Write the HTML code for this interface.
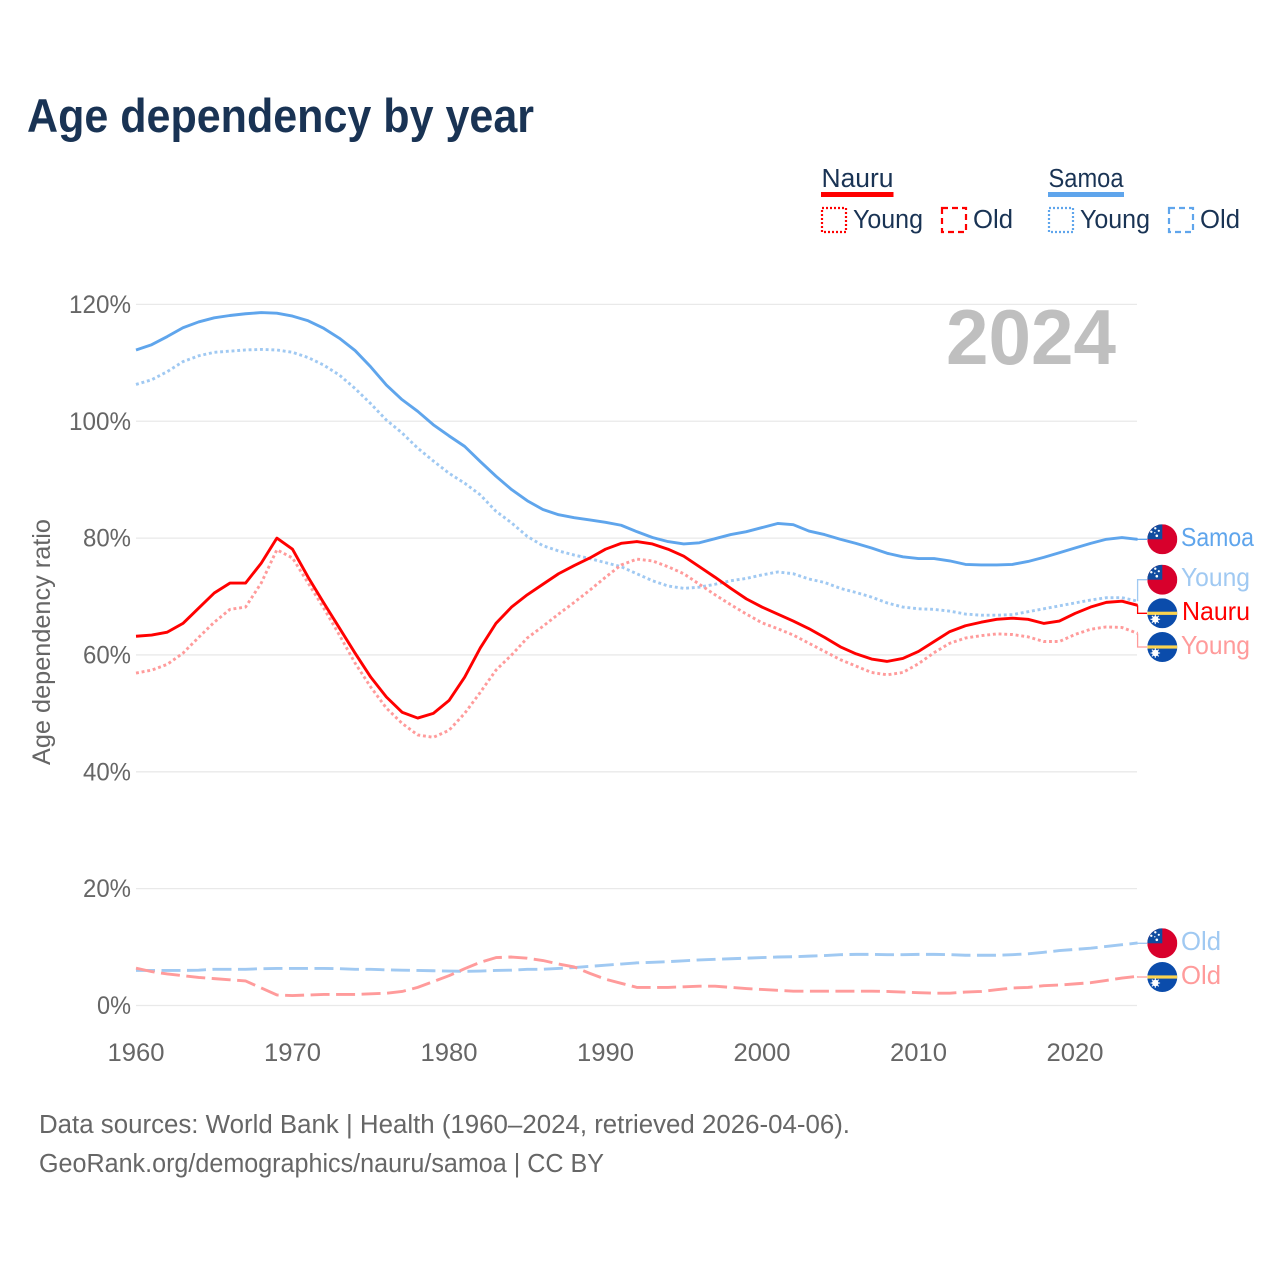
<!DOCTYPE html>
<html lang="en">
<head>
<meta charset="utf-8">
<title>Age dependency by year</title>
<style>
html,body{margin:0;padding:0;background:#fff;}
svg{display:block;}
text{font-family:"Liberation Sans",sans-serif;}
</style>
</head>
<body>
<svg id="chart" xmlns="http://www.w3.org/2000/svg" width="1280" height="1280" viewBox="0 0 1280 1280">
  <defs>
    <clipPath id="flag-clip"><circle cx="0" cy="0" r="15"/></clipPath>
    <g id="samoa-flag" clip-path="url(#flag-clip)">
      <rect x="-15" y="-15" width="30" height="30" fill="#d8002c"/>
      <rect x="-15" y="-15" width="15" height="15" fill="#0f4c9f"/>
      <circle cx="-7" cy="-11" r="1.2" fill="#fff"/>
      <circle cx="-3.5" cy="-8.5" r="1.1" fill="#fff"/>
      <circle cx="-11" cy="-7.5" r="1.2" fill="#fff"/>
      <circle cx="-5.5" cy="-3.5" r="1.3" fill="#fff"/>
      <circle cx="-7.5" cy="-6.5" r="0.7" fill="#fff"/>
    </g>
    <g id="nauru-flag" clip-path="url(#flag-clip)">
      <rect x="-15" y="-15" width="30" height="30" fill="#0b4cab"/>
      <rect x="-15" y="-1.6" width="30" height="3.2" fill="#fbd34f"/>
      <circle cx="-7" cy="6" r="3.2" fill="#fff"/>
      <path d="M-7 1.2V10.8M-11.8 6H-2.2M-10.4 2.6L-3.6 9.4M-3.6 2.6L-10.4 9.4" stroke="#fff" stroke-width="1.1"/>
    </g>
  </defs>

  <text x="27" y="132" font-size="47" font-weight="700" fill="#193354" textLength="507" lengthAdjust="spacingAndGlyphs">Age dependency by year</text>

  <g font-size="25.5" fill="#193354">
    <text x="821.5" y="187" textLength="72" lengthAdjust="spacingAndGlyphs">Nauru</text>
    <rect x="821" y="192" width="72.5" height="5" fill="#ff0000"/>
    <rect x="822" y="208" width="24" height="24" fill="none" stroke="#ff0000" stroke-width="2.2" stroke-dasharray="2 2"/>
    <text x="853" y="228" textLength="70" lengthAdjust="spacingAndGlyphs">Young</text>
    <rect x="942" y="208" width="24" height="24" fill="none" stroke="#ff0000" stroke-width="2.2" stroke-dasharray="6 4"/>
    <text x="973" y="228" textLength="40" lengthAdjust="spacingAndGlyphs">Old</text>
    <text x="1048.5" y="187" textLength="75" lengthAdjust="spacingAndGlyphs">Samoa</text>
    <rect x="1048" y="192" width="76" height="5" fill="#5fa5ec"/>
    <rect x="1049" y="208" width="24" height="24" fill="none" stroke="#5fa5ec" stroke-width="2.2" stroke-dasharray="2 2"/>
    <text x="1080" y="228" textLength="70" lengthAdjust="spacingAndGlyphs">Young</text>
    <rect x="1169" y="208" width="24" height="24" fill="none" stroke="#5fa5ec" stroke-width="2.2" stroke-dasharray="6 4"/>
    <text x="1200" y="228" textLength="40" lengthAdjust="spacingAndGlyphs">Old</text>
  </g>

  <g id="grid"></g>
  <g id="yticks"></g>
  <g id="xticks"></g>

  <text x="946" y="364" font-size="78" font-weight="700" fill="#bfbfbf" textLength="170" lengthAdjust="spacingAndGlyphs">2024</text>

  <text transform="translate(50,765) rotate(-90)" x="0" y="0" font-size="25" fill="#666666" textLength="246" lengthAdjust="spacingAndGlyphs">Age dependency ratio</text>

  <g id="series"></g>
  <g id="connectors"></g>

  <g font-size="26">
    <use href="#samoa-flag" x="1162.3" y="539.3"/>
    <text x="1181" y="546" fill="#5fa5ec" textLength="73" lengthAdjust="spacingAndGlyphs">Samoa</text>
    <use href="#samoa-flag" x="1162.3" y="579.7"/>
    <text x="1181" y="586" fill="#a0c9f2" textLength="69" lengthAdjust="spacingAndGlyphs">Young</text>
    <use href="#nauru-flag" x="1162.3" y="613.3"/>
    <text x="1182" y="620" fill="#ff0000" textLength="68" lengthAdjust="spacingAndGlyphs">Nauru</text>
    <use href="#nauru-flag" x="1162.3" y="647"/>
    <text x="1181" y="654" fill="#ff9b9b" textLength="69" lengthAdjust="spacingAndGlyphs">Young</text>
    <use href="#samoa-flag" x="1162.3" y="943.3"/>
    <text x="1181" y="950" fill="#a0c9f2" textLength="40" lengthAdjust="spacingAndGlyphs">Old</text>
    <use href="#nauru-flag" x="1162.3" y="977"/>
    <text x="1181" y="984" fill="#ff9b9b" textLength="40" lengthAdjust="spacingAndGlyphs">Old</text>
  </g>

  <text x="39" y="1133" font-size="25.5" fill="#666666" textLength="811" lengthAdjust="spacingAndGlyphs">Data sources: World Bank | Health (1960–2024, retrieved 2026-04-06).</text>
  <text x="39" y="1172" font-size="25.5" fill="#666666" textLength="565" lengthAdjust="spacingAndGlyphs">GeoRank.org/demographics/nauru/samoa | CC BY</text>
</svg>
<script>
var firstYear = 1960;
var yearTicks = [1960, 1970, 1980, 1990, 2000, 2010, 2020];
var valueTicks = [0, 20, 40, 60, 80, 100, 120];

var nauruTotal = [63.2,63.4,63.9,65.4,68,70.6,72.3,72.3,75.7,80,78.1,73.3,68.9,64.6,60.3,56.2,52.8,50.2,49.2,50,52.2,56.2,61.2,65.4,68.2,
  70.3,72.1,73.9,75.3,76.6,78.1,79.1,79.4,79,78.1,76.9,75.1,73.3,71.4,69.6,68.2,67,65.8,64.5,63,
  61.4,60.2,59.3,58.9,59.4,60.6,62.3,64,65,65.6,66.1,66.3,66.1,65.4,65.8,67.1,68.2,69,69.2,68.5];
var nauruYoung = [56.9,57.4,58.4,60.3,63,65.6,67.8,68.2,72.3,78,76.6,72.3,68,63.4,58.6,54.5,50.9,48.3,46.3,45.9,47.1,50,53.6,57.4,60,
  62.9,64.9,67,69,71.1,73.3,75.4,76.4,76.1,75.1,73.9,72.1,70.3,68.6,67,65.5,64.5,63.4,62,60.6,
  59.2,58.1,57,56.6,57,58.5,60.4,62,62.9,63.3,63.6,63.5,63.1,62.3,62.3,63.5,64.4,64.8,64.7,63.7];
var nauruOld = [6.4,5.8,5.4,5.1,4.8,4.6,4.4,4.2,3,1.8,1.7,1.8,1.9,1.9,1.9,2,2.1,2.4,3.1,4.1,5.1,6.3,7.4,8.2,8.3,
  8.1,7.7,7.1,6.6,5.5,4.5,3.8,
  3.1,3.1,3.1,3.2,3.3,3.3,3.1,2.9,2.75,2.6,2.45,2.45,2.45,2.45,2.45,2.45,2.4,2.3,2.2,2.1,2.1,2.3,2.4,2.7,3,3.1,3.4,3.5,3.7,3.9,4.3,4.7,5];
var samoaTotal = [112.2,113.1,114.5,116,117,117.7,118.1,118.4,118.6,118.5,118,117.2,115.9,114.2,112.1,109.3,106.2,103.7,101.7,99.4,97.5,95.7,93.1,90.6,88.3,
  86.4,84.9,84,83.5,83.1,82.7,82.2,81.1,80.1,79.4,79,79.2,79.9,80.6,81.1,81.8,82.5,82.3,81.2,80.6,
  79.8,79.1,78.3,77.4,76.8,76.5,76.5,76.1,75.5,75.4,75.4,75.5,76,76.7,77.5,78.3,79.1,79.8,80.1,79.8];
var samoaYoung = [106.3,107.1,108.5,110.2,111.2,111.8,112,112.2,112.3,112.2,111.8,110.9,109.6,107.9,105.6,103,100.2,98,95.4,93.2,91.1,89.4,87.4,84.6,82.6,
  80.3,78.7,77.8,77.1,76.5,75.8,75.1,73.9,72.7,71.8,71.4,71.6,72.1,72.7,73.1,73.7,74.2,73.9,73,72.4,
  71.4,70.7,69.9,68.9,68.2,67.9,67.8,67.5,67,66.8,66.8,66.9,67.4,67.9,68.4,68.9,69.4,69.8,69.8,69.2];
var samoaOld = [6,6,6,6,6.05,6.2,6.2,6.2,6.3,6.35,6.35,6.35,6.35,6.3,6.2,6.2,6.1,6.05,6,5.95,5.9,5.85,5.9,6,6.05,
  6.2,6.2,6.35,6.5,6.7,6.9,
  7.1,7.3,7.4,7.5,7.65,7.8,7.9,8,8.1,8.2,8.3,8.35,8.45,8.55,8.7,8.75,8.75,8.7,8.7,8.75,8.75,8.7,8.6,8.6,8.6,8.7,8.85,9.1,9.4,9.6,9.8,10.1,10.4,10.7];

var NS = 'http://www.w3.org/2000/svg';
function xScale(year) { return 136 + (year - 1960) * 15.65; }
function yScale(value) { return 1005.5 - value * 5.8425; }
function make(tag, parentId) {
  var el = document.createElementNS(NS, tag);
  document.getElementById(parentId).appendChild(el);
  return el;
}

valueTicks.forEach(function (v) {
  var line = make('line', 'grid');
  
  
  line.setAttribute('x1', 136);
  line.setAttribute('x2', 1137);
  line.setAttribute('y1', yScale(v));
  line.setAttribute('y2', yScale(v));
  line.setAttribute('stroke', '#e9e9e9');
  line.setAttribute('stroke-width', '1.3');

  var label = make('text', 'yticks');
  
  
  var text = v + '%';
  var width = text.length === 4 ? 62 : (text.length === 3 ? 48 : 34);
  label.setAttribute('x', 131 - width);
  label.setAttribute('y', yScale(v) + 8.5);
  label.setAttribute('font-size', '25');
  label.setAttribute('fill', '#666666');
  label.setAttribute('textLength', width);
  label.setAttribute('lengthAdjust', 'spacingAndGlyphs');
  label.textContent = text;
});

yearTicks.forEach(function (yr) {
  var label = make('text', 'xticks');
  
  
  label.setAttribute('x', xScale(yr) - 28.5);
  label.setAttribute('y', 1061);
  label.setAttribute('font-size', '25');
  label.setAttribute('fill', '#666666');
  label.setAttribute('textLength', 57);
  label.setAttribute('lengthAdjust', 'spacingAndGlyphs');
  label.textContent = String(yr);
});

function pathFor(values) {
  return values.map(function (v, i) {
    return (i ? 'L' : 'M') + xScale(firstYear + i).toFixed(2) + ' ' + yScale(v).toFixed(2);
  }).join(' ');
}

function drawLine(values, color, dash, name) {
  var p = make('path', 'series');
  
  
  p.setAttribute('d', pathFor(values));
  p.setAttribute('fill', 'none');
  p.setAttribute('stroke', color);
  p.setAttribute('stroke-width', '2.9');
  p.setAttribute('stroke-linejoin', 'round');
  if (dash) p.setAttribute('stroke-dasharray', dash);
}

var lightRed = '#ff9b9b';
var lightBlue = '#a0c9f2';
drawLine(samoaOld, lightBlue, '19 6.5', 'samoa-old-line');
drawLine(nauruOld, lightRed, '19 6.5', 'nauru-old-line');
drawLine(samoaYoung, lightBlue, '2.9 2.8', 'samoa-young-line');
drawLine(nauruYoung, lightRed, '2.9 2.8', 'nauru-young-line');
drawLine(samoaTotal, '#5fa5ec', '', 'samoa-total-line');
drawLine(nauruTotal, '#ff0000', '', 'nauru-total-line');

function connector(values, labelY, color, name) {
  var last = values[values.length - 1];
  var x0 = xScale(firstYear + values.length - 1);
  var c = make('path', 'connectors');
  
  
  c.setAttribute('d', 'M' + x0 + ' ' + yScale(last) + ' L' + x0 + ' ' + labelY + ' L1147 ' + labelY);
  c.setAttribute('fill', 'none');
  c.setAttribute('stroke', color);
  c.setAttribute('stroke-width', '1.3');
}

connector(samoaTotal, 539.3, '#5fa5ec', 'samoa-total-connector');
connector(samoaYoung, 579.7, lightBlue, 'samoa-young-connector');
connector(nauruTotal, 613.3, '#ff0000', 'nauru-total-connector');
connector(nauruYoung, 647, lightRed, 'nauru-young-connector');
connector(samoaOld, 943.3, lightBlue, 'samoa-old-connector');
connector(nauruOld, 977, lightRed, 'nauru-old-connector');
</script>
</body>
</html>
